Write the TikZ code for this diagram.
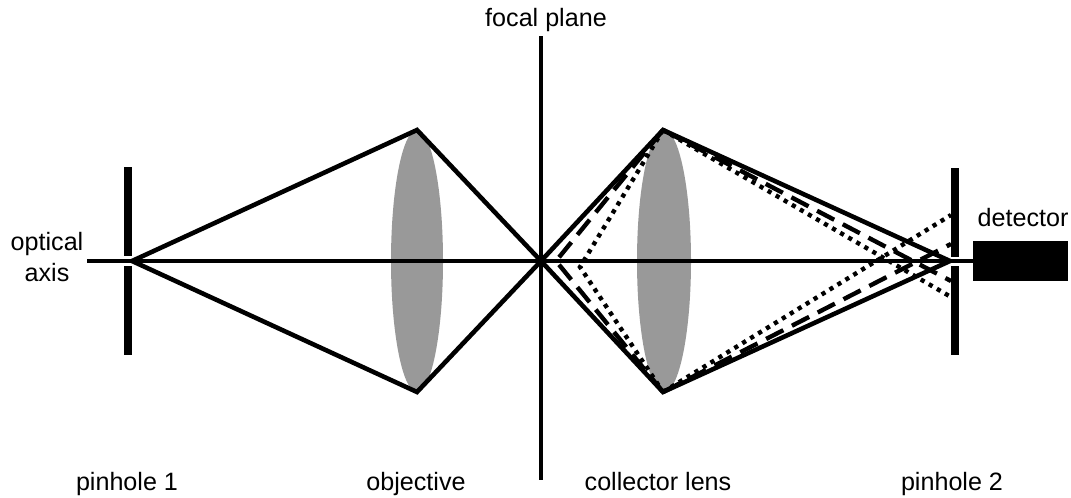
\documentclass[tikz,border=0pt]{standalone}
\usepackage{fontspec}
\setmainfont{Liberation Sans}
\tikzset{
  raysolid/.style={line width=2.6pt},
  raydash/.style={line width=2.5pt, dash pattern=on 11pt off 5.5pt},
  raydot/.style={line width=2.5pt, dash pattern=on 2.4pt off 2.9pt},
  plate/.style={fill=black, draw=none, inner sep=0pt, minimum width=0.17cm, minimum height=1.78cm},
  lbl/.style={font=\fontsize{14.3}{17.2}\selectfont, inner sep=0pt, align=center}
}
\begin{document}
\begin{tikzpicture}[x=0.02cm,y=-0.02cm]
\useasboundingbox (0,0) rectangle (1071,497);
% lenses
\fill[black!40] (417,261) ellipse [x radius=26, y radius=131];
\fill[black!40] (664,261) ellipse [x radius=27, y radius=131];
% points on the rays
\coordinate (source) at (132,261);
\coordinate (objtop) at (417,130);
\coordinate (objbot) at (417,392);
\coordinate (focus) at (541,261);
\coordinate (coltop) at (663,130);
\coordinate (colbot) at (663,392);
\coordinate (image) at (950,261);
\coordinate (dashin) at (556,261);
\coordinate (dashhi) at (951,244);
\coordinate (dashlo) at (951,281);
\coordinate (dotin) at (580,267);
\coordinate (dothi) at (951,215);
\coordinate (dotlo) at (951,297);
\coordinate (axisstart) at (87,261);
\coordinate (planetop) at (541,36);
\coordinate (planebot) at (541,480);
% plates and detector
\node[plate] (pin1a) at (128,211.5) {};
\node[plate] (pin1b) at (128,310.5) {};
\node[plate] (pin2a) at (955,212.5) {};
\node[plate] (pin2b) at (955,310.5) {};
\node[fill=black, inner sep=0pt, minimum width=1.9cm, minimum height=0.8cm] (detbox) at (1020.5,261) {};
% axis and focal plane
\draw[line width=2pt] (axisstart) -- (detbox.west);
\draw[line width=2.3pt] (planetop) -- (planebot);
% rays
\draw[raysolid] (source) -- (objtop) -- (focus) -- (objbot) -- cycle;
\draw[raysolid] (focus) -- (coltop) -- (image) -- (colbot) -- cycle;
\draw[raydash] (coltop) -- (dashin) -- (colbot);
\draw[raydash] (coltop) -- (dashlo);
\draw[raydash] (colbot) -- (dashhi);
\draw[raydot] (coltop) -- (dotin) -- (colbot);
\draw[raydot] (coltop) -- (dotlo);
\draw[raydot] (colbot) -- (dothi);
% labels
\node[lbl] (planelbl) at (546,20) {focal plane};
\node[lbl] (axislbl) at (47,257) {optical\\axis};
\node[lbl] (detlbl) at (1023,218) {detector};
\node[lbl, anchor=base] (pin1lbl) at (127,490) {pinhole 1};
\node[lbl, anchor=base] (objlbl) at (416,490) {objective};
\node[lbl, anchor=base] (collbl) at (658,490) {collector lens};
\node[lbl, anchor=base] (pin2lbl) at (952,490) {pinhole 2};
\end{tikzpicture}
\end{document}
